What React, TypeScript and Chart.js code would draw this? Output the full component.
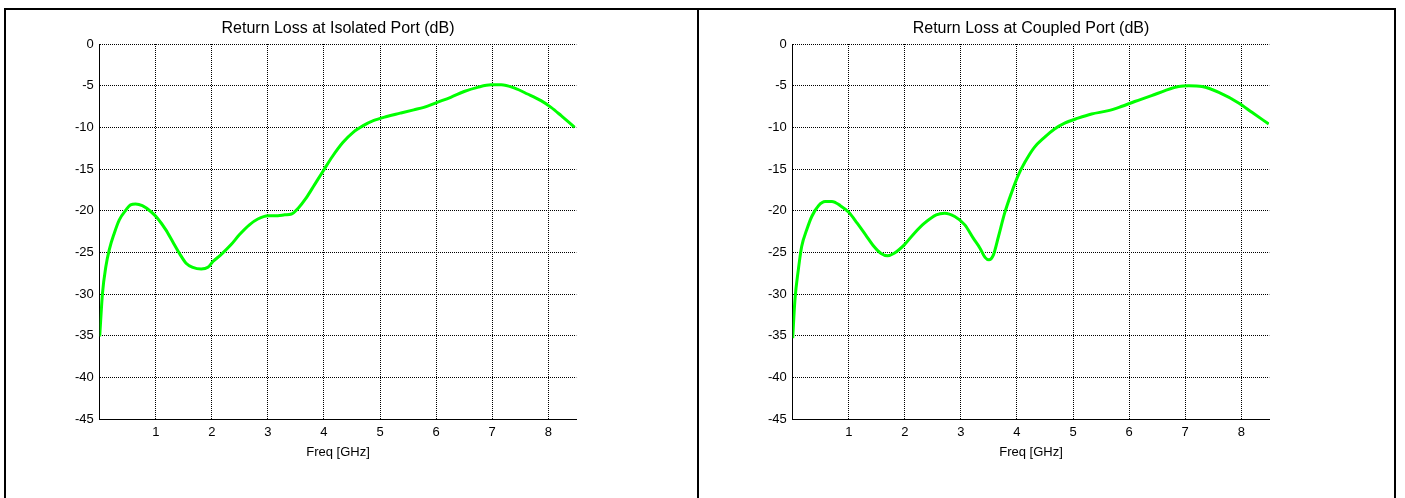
import React, { useEffect, useRef } from "react";
import { Chart, registerables } from "chart.js";

Chart.register(...registerables);

const ISO_TITLE = "Return Loss at Isolated Port (dB)";
const CPL_TITLE = "Return Loss at Coupled Port (dB)";
const X_LABEL = "Freq [GHz]";

const X_TICKS = [1, 2, 3, 4, 5, 6, 7, 8];
const Y_TICKS = [-45, -40, -35, -30, -25, -20, -15, -10, -5, 0];

const ISO_FREQ = [0, 0.05, 0.11, 0.17, 0.26, 0.35, 0.47, 0.55, 0.64, 0.76, 0.91, 1.03, 1.18, 1.3, 1.42, 1.54, 1.66, 1.81, 1.93, 2.02, 2.16, 2.34, 2.49, 2.67, 2.82, 3.0, 3.18, 3.3, 3.42, 3.54, 3.68, 3.83, 3.98, 4.15, 4.34, 4.52, 4.7, 4.88, 5.12, 5.36, 5.6, 5.78, 6.02, 6.26, 6.5, 6.74, 6.98, 7.16, 7.4, 7.63, 7.87, 8.05, 8.23, 8.47];
const ISO_DB = [-35.1, -29.9, -26.7, -24.7, -22.7, -21.1, -19.9, -19.3, -19.2, -19.4, -20.1, -20.9, -22.3, -23.7, -25.1, -26.3, -26.8, -27.0, -26.8, -26.1, -25.3, -24.1, -22.9, -21.7, -21.0, -20.6, -20.6, -20.5, -20.4, -19.7, -18.5, -16.9, -15.3, -13.5, -11.8, -10.6, -9.8, -9.2, -8.7, -8.3, -7.9, -7.6, -7.0, -6.4, -5.7, -5.2, -4.9, -4.9, -5.3, -6.0, -6.8, -7.6, -8.6, -10.0];

const CPL_FREQ = [0, 0.04, 0.1, 0.16, 0.25, 0.34, 0.46, 0.58, 0.7, 0.85, 1.0, 1.15, 1.3, 1.45, 1.57, 1.69, 1.81, 1.99, 2.17, 2.35, 2.56, 2.71, 2.89, 3.07, 3.22, 3.34, 3.43, 3.5, 3.58, 3.67, 3.78, 3.9, 4.02, 4.14, 4.31, 4.49, 4.67, 4.85, 5.09, 5.33, 5.63, 5.86, 6.1, 6.4, 6.64, 6.88, 7.06, 7.3, 7.6, 7.96, 8.19, 8.49];
const CPL_DB = [-35.3, -30.7, -27.1, -24.3, -22.3, -20.7, -19.4, -18.9, -18.9, -19.4, -20.2, -21.5, -22.9, -24.3, -25.1, -25.4, -25.1, -24.1, -22.7, -21.5, -20.5, -20.3, -20.7, -21.7, -23.3, -24.5, -25.6, -25.9, -25.3, -23.1, -20.3, -17.9, -15.8, -14.2, -12.4, -11.2, -10.2, -9.5, -8.9, -8.4, -8.0, -7.5, -6.9, -6.2, -5.6, -5.1, -5.0, -5.1, -5.8, -7.1, -8.2, -9.6];

const FONT = "Arial, 'Liberation Sans', sans-serif";
const CW = 664;
const CH = 488;

function Panel({ title, freq, db, left }: { title: string; freq: number[]; db: number[]; left: number }) {
  const ref = useRef<HTMLCanvasElement | null>(null);
  useEffect(() => {
    if (!ref.current) return;
    const chart = new Chart(ref.current, {
      type: "line",
      data: {
        datasets: [
          {
            data: freq.map((f, i) => ({ x: f, y: db[i] })),
            borderColor: "#00ff00",
            borderWidth: 3,
            pointRadius: 0,
            cubicInterpolationMode: "monotone",
            fill: false,
          },
        ],
      },
      options: {
        responsive: false,
        animation: false,
        devicePixelRatio: 1,
        layout: { padding: { left: 0, right: 93.7, top: 0, bottom: 38.2 } },
        plugins: {
          legend: { display: false },
          tooltip: { enabled: false },
          title: {
            display: true,
            fullSize: false,
            text: title,
            color: "#000",
            font: { family: FONT, size: 16, weight: "normal", lineHeight: 1.2 },
            padding: { top: 9.4, bottom: 5.4 },
          },
        },
        scales: {
          x: {
            type: "linear",
            min: 0,
            max: 8.5,
            afterBuildTicks: (s: any) => {
              s.ticks = X_TICKS.map((v) => ({ value: v }));
            },
            afterFit: (s: any) => {
              s.height = 40.8;
            },
            ticks: {
              color: "#000",
              font: { family: FONT, size: 13 },
              padding: 6,
              maxRotation: 0,
              autoSkip: false,
            },
            grid: { color: "#000", lineWidth: 1, drawTicks: false },
            border: { display: true, color: "#000", width: 1, dash: [1, 1] },
            title: {
              display: true,
              text: X_LABEL,
              color: "#000",
              font: { family: FONT, size: 13, lineHeight: 1.2 },
              padding: 0,
            },
          },
          y: {
            type: "linear",
            min: -45,
            max: 0,
            afterBuildTicks: (s: any) => {
              s.ticks = Y_TICKS.map((v) => ({ value: v }));
            },
            afterFit: (s: any) => {
              s.width = 93.7;
            },
            ticks: {
              color: "#000",
              font: { family: FONT, size: 13 },
              padding: 6,
              autoSkip: false,
            },
            grid: { color: "#000", lineWidth: 1, drawTicks: false },
            border: { display: true, color: "#000", width: 1, dash: [1, 1] },
          },
        },
      } as any,
    });
    return () => chart.destroy();
  }, [title, freq, db]);
  return (
    <canvas
      ref={ref}
      width={CW}
      height={CH}
      style={{ position: "absolute", left, top: 10, width: CW, height: CH }}
    />
  );
}

export default function App() {
  return (
    <div
      style={{
        position: "absolute",
        left: 0,
        top: 0,
        width: 1405,
        height: 498,
        overflow: "hidden",
        background: "#fff",
      }}
    >
      <div
        style={{
          position: "absolute",
          left: 4,
          top: 8,
          width: 1392,
          height: 600,
          boxSizing: "border-box",
          border: "2px solid #000",
        }}
      />
      <div style={{ position: "absolute", left: 697, top: 8, width: 2, height: 600, background: "#000" }} />
      <Panel title={ISO_TITLE} freq={ISO_FREQ} db={ISO_DB} left={6} />
      <Panel title={CPL_TITLE} freq={CPL_FREQ} db={CPL_DB} left={699} />
    </div>
  );
}
